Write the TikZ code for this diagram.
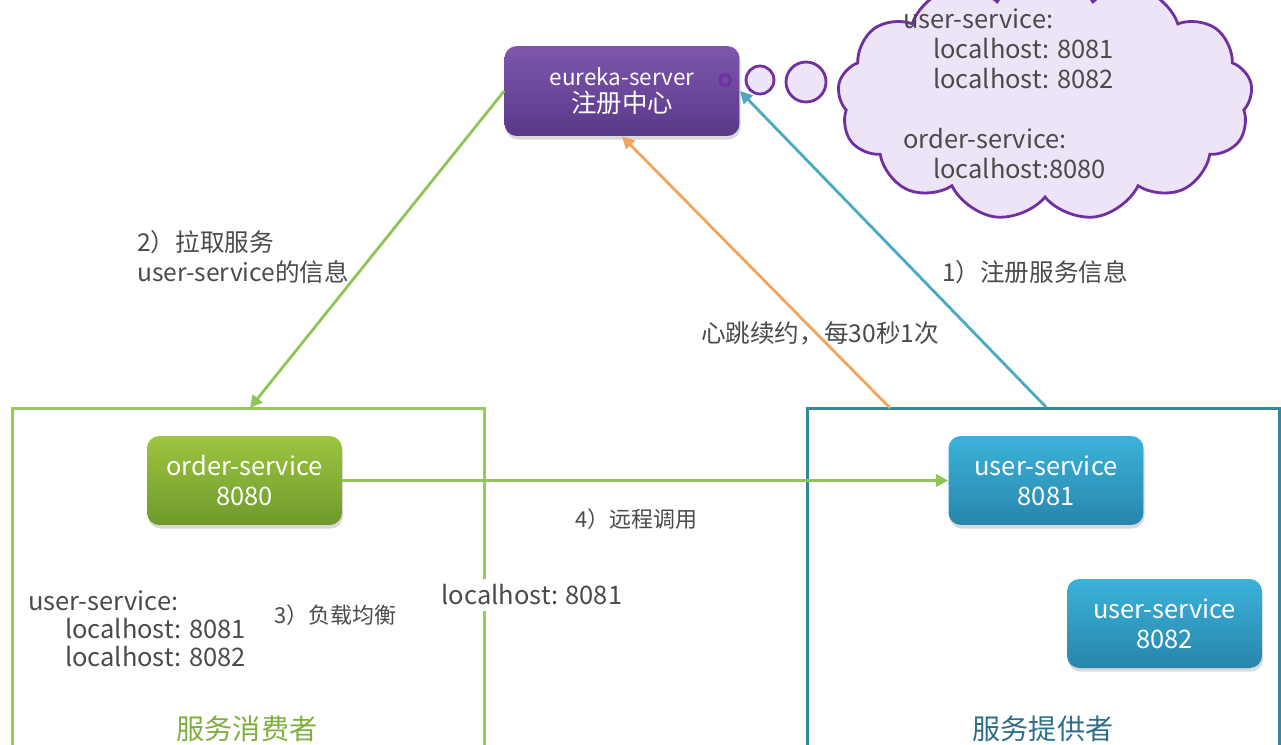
\documentclass[tikz,border=0pt]{standalone}
\usepackage{fontspec}
\setmainfont{Noto Sans CJK SC}
\usepackage{xcolor}
\usepackage{tikz}
\usetikzlibrary{arrows.meta, positioning, calc, shapes.symbols, shadows}

\definecolor{eurekaTop}{HTML}{7E56AE}
\definecolor{eurekaBot}{HTML}{5A3988}
\definecolor{orderTop}{HTML}{9DC540}
\definecolor{orderBot}{HTML}{6E9A2B}
\definecolor{userTop}{HTML}{3BB2DA}
\definecolor{userBot}{HTML}{2886AC}
\definecolor{consumerLine}{HTML}{92CC5A}
\definecolor{providerLine}{HTML}{3388A0}
\definecolor{pullGreen}{HTML}{8FC556}
\definecolor{beatOrange}{HTML}{F4A45C}
\definecolor{regBlue}{HTML}{4AAAC4}
\definecolor{cloudLine}{HTML}{7030A0}
\definecolor{cloudFill}{HTML}{EEE4F7}
\definecolor{txtGray}{HTML}{4A4A4A}
\definecolor{consumerTxt}{HTML}{7DAE3E}
\definecolor{providerTxt}{HTML}{2D6F87}

\begin{document}
\begin{tikzpicture}[x=0.02cm,y=-0.02cm,
    every node/.style={text=txtGray},
    service/.style={rounded corners=7pt, text=white, align=center,
        minimum width=3.9cm, minimum height=1.78cm,
        font=\fontsize{14.5}{17}\selectfont,
        drop shadow={opacity=0.3, shadow xshift=0.6pt, shadow yshift=-2pt}},
    group/.style={draw, line width=1.7pt, minimum width=9.44cm, minimum height=7.3cm},
    label/.style={font=\fontsize{14}{17}\selectfont, align=left},
    small/.style={font=\fontsize{12.5}{15}\selectfont},
    bubble/.style={draw=cloudLine, fill=cloudFill, line width=1.6pt},
    link/.style={line width=1.6pt, -{Triangle[length=7pt,width=7pt]}}]

    \useasboundingbox (0,0) rectangle (1281,744);

    %--------------------------------
    % 注册中心
    %--------------------------------
    \node[service, top color=eurekaTop, bottom color=eurekaBot,
        minimum width=4.7cm, minimum height=1.8cm,
        font=\fontsize{12.8}{15.3}\selectfont] (eureka) at (622,91)
        {eureka-server\\{\fontsize{14.5}{15.3}\selectfont 注册中心}};

    % thought bubble
    \node[cloud, cloud puffs=13, cloud puff arc=115, aspect=1.75,
        bubble, minimum width=8.3cm, minimum height=4.9cm] (registry) at (1045,98) {};
    \foreach \cx/\cy/\r in {760/80/0.28, 806/82/0.4}{
        \draw[bubble] (\cx,\cy) circle (\r cm);
    }
    \draw[draw=cloudLine, line width=1.8pt] (725,80) circle (0.11cm);

    \node[label, anchor=north west, font=\fontsize{14.5}{17}\selectfont] (registryTxt) at (897,3)
        {user-service:\\
         \hspace*{17pt}localhost: 8081\\
         \hspace*{17pt}localhost: 8082\\[17pt]
         order-service:\\
         \hspace*{17pt}localhost:8080};

    %--------------------------------
    % 服务消费者 / 服务提供者
    %--------------------------------
    \node[group, draw=consumerLine] (consumer) at (248.5,591) {};
    \node[group, draw=providerLine] (provider) at (1043.5,591) {};

    \node[service, top color=orderTop, bottom color=orderBot] (order) at (244.5,480.5)
        {order-service\\8080};
    \node[service, top color=userTop, bottom color=userBot] (user1) at (1046,480.5)
        {user-service\\8081};
    \node[service, top color=userTop, bottom color=userBot] (user2) at (1164.5,623.5)
        {user-service\\8082};

    \node[font=\fontsize{16}{18}\selectfont, text=consumerTxt] (consumerName) at (247,729) {服务消费者};
    \node[font=\fontsize{16}{18}\selectfont, text=providerTxt] (providerName) at (1043,729) {服务提供者};

    \node[label, anchor=west, font=\fontsize{14.5}{16}\selectfont] (cache) at (22,629)
        {user-service:\\
         \hspace*{21pt}localhost: 8081\\
         \hspace*{21pt}localhost: 8082};
    \node[small] (balance) at (335,615) {3）负载均衡};
    \node[label, fill=white, inner sep=3pt, font=\fontsize{14.5}{17}\selectfont] (chosen) at (532,595) {localhost: 8081};

    %--------------------------------
    % 连线
    %--------------------------------
    \coordinate (pullEnd) at (250,408);
    \coordinate (beatStart) at (890,408);

    \draw[link, pullGreen] (eureka.west) -- (pullEnd);
    \draw[link, beatOrange] (beatStart) -- (eureka.south);
    \draw[link, regBlue] (user1.north |- provider.north) -- (eureka.east);
    \draw[link, pullGreen] (order.east) -- (user1.west);

    %--------------------------------
    % 连线说明
    %--------------------------------
    \node[label, anchor=west] (pullTxt) at (131,257) {2）拉取服务\\user-service的信息};
    \node[label] (beatTxt) at (820,333) {心跳续约，每30秒1次};
    \node[label] (regTxt) at (1035,272) {1）注册服务信息};
    \node[small] (callTxt) at (636,519) {4）远程调用};

\end{tikzpicture}
\end{document}
